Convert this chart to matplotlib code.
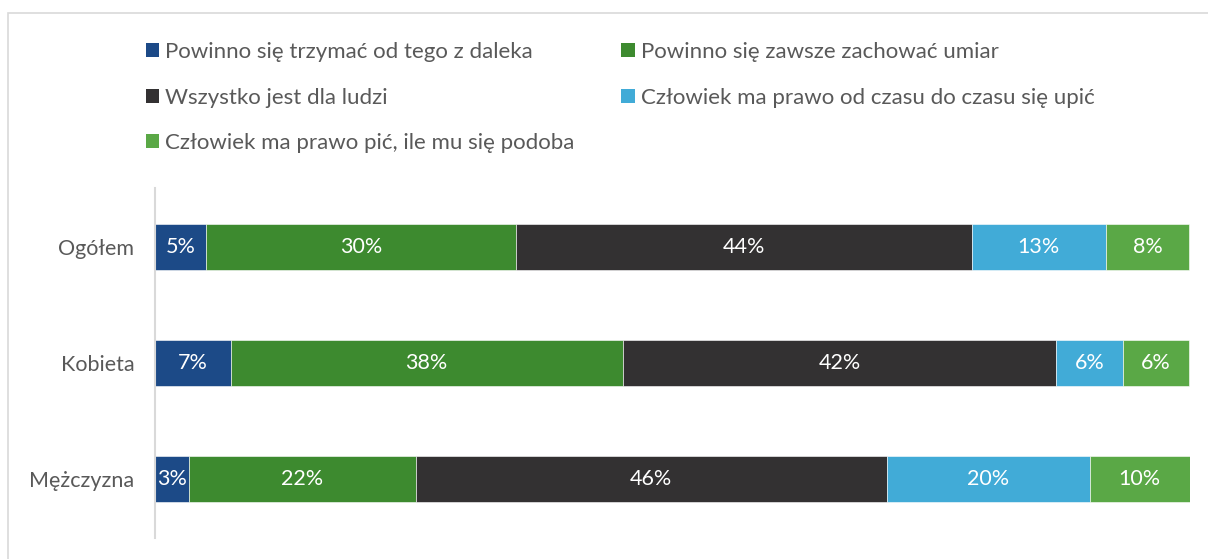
import matplotlib
matplotlib.use("Agg")
import matplotlib.pyplot as plt
from matplotlib.patches import Rectangle, Patch

plt.rcParams['font.family'] = ['Lato', 'DejaVu Sans']

categories = ["Ogółem", "Kobieta", "Mężczyzna"]
series_names = [
    "Powinno się trzymać od tego z daleka",
    "Powinno się zawsze zachować umiar",
    "Wszystko jest dla ludzi",
    "Człowiek ma prawo od czasu do czasu się upić",
    "Człowiek ma prawo pić, ile mu się podoba",
]
trzymac = [4.9, 7.3, 3.3]
umiar = [30.0, 37.9, 21.9]
wszystko = [44.0, 41.9, 45.5]
upic = [13.0, 6.4, 19.6]
ile = [8.0, 6.4, 9.7]
series_values = [trzymac, umiar, wszystko, upic, ile]
colors = ["#1c4a87", "#3d8a2f", "#333132", "#41abd7", "#5aa846"]

W, H = 1208, 559
fig = plt.figure(figsize=(W / 100, H / 100), dpi=100)
fig.patch.set_facecolor("white")

# outer frame
fig.add_artist(Rectangle((8 / W, -0.05), 1.1, 1 - 13 / H + 0.05, transform=fig.transFigure,
                         fill=False, edgecolor="#d9d9d9", linewidth=1.2))

ax = fig.add_axes([155 / W, 1 - 538 / H, (1190 - 155) / W, (538 - 188) / H])
ypos = list(range(len(categories)))
left = [0.0] * len(categories)
handles = []
for name, vals, c in zip(series_names, series_values, colors):
    bars = ax.barh(ypos, vals, left=left, height=0.4, color=c, edgecolor="white", linewidth=0.4, label=name)
    for b, v, l in zip(bars, vals, left):
        ax.text(l + v / 2, b.get_y() + b.get_height() / 2, f"{round(v):d}%", ha="center", va="center",
                color="white", fontsize=15.5)
    left = [a + b for a, b in zip(left, vals)]
    handles.append(Patch(facecolor=c, edgecolor="none", label=name))

ax.set_xlim(0, max(left))
ax.set_ylim(2.51, -0.51)
ax.set_yticks(ypos)
ax.set_yticklabels(categories, fontsize=15.5, color="#595959")
ax.tick_params(axis="y", length=0, pad=15)
ax.set_xticks([])
for s in ["top", "right", "bottom"]:
    ax.spines[s].set_visible(False)
ax.spines["left"].set_color("#d9d9d9")
ax.spines["left"].set_linewidth(1.5)

order = [0, 2, 4, 1, 3]
leg = fig.legend([handles[i] for i in order], [series_names[i] for i in order], ncol=2,
                 loc="upper left", bbox_to_anchor=(146 / W, 1 - 42 / H), frameon=False,
                 borderpad=0, borderaxespad=0,
                 fontsize=16, handlelength=0.6, handleheight=0.6, handletextpad=0.27,
                 labelspacing=1.15, columnspacing=2.1)
for t in leg.get_texts():
    t.set_color("#595959")

fig.savefig("out.png", dpi=100)
